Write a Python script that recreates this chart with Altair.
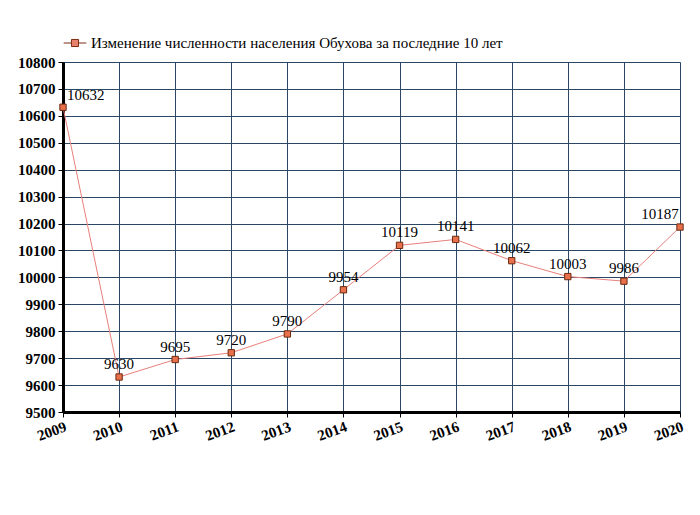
import altair as alt
import pandas as pd

years = [2009, 2010, 2011, 2012, 2013, 2014, 2015, 2016, 2017, 2018, 2019, 2020]
population = [10632, 9630, 9695, 9720, 9790, 9954, 10119, 10141, 10062, 10003, 9986, 10187]
label_pos = ["right", "above", "above", "above", "above", "above", "above", "above",
             "above", "above", "above", "left"]
series_name = "Изменение численности населения Обухова за последние 10 лет"

df = pd.DataFrame({"year": years, "pop": population, "pos": label_pos, "series": series_name})

FONT = "Liberation Serif"

x = alt.X("year:Q", scale=alt.Scale(domain=[2009, 2020], nice=False, zero=False),
          axis=alt.Axis(values=years, format="d", labelAngle=-20, labelAlign="right",
                        labelBaseline="top", labelFont=FONT, labelFontSize=15,
                        labelFontWeight="bold", labelColor="black", title=None,
                        grid=True, gridColor="#2b4766", gridWidth=1,
                        domainColor="black", domainWidth=3, tickColor="black",
                        tickSize=5, labelPadding=2, labelOverlap=False))
y = alt.Y("pop:Q", scale=alt.Scale(domain=[9500, 10800], nice=False, zero=False),
          axis=alt.Axis(values=list(range(9500, 10801, 100)), format="d", labelFont=FONT,
                        labelFontSize=15, labelFontWeight="bold", labelColor="black",
                        title=None, grid=True, gridColor="#2b4766", gridWidth=1,
                        domainColor="black", domainWidth=3, tickColor="black",
                        tickSize=5, labelPadding=3))

color = alt.Color("series:N", scale=alt.Scale(range=["#e8806e"]),
                  legend=alt.Legend(title=None, orient="none", legendX=4, legendY=-27,
                                    labelFont=FONT, labelFontSize=15, labelColor="black",
                                    symbolType="M-1.6,0H-0.5M0.5,0H1.6M-0.5,-0.5H0.5V0.5H-0.5Z",
                                    symbolSize=200, symbolStrokeColor="#7a2a10",
                                    symbolFillColor="#e8704a", symbolStrokeWidth=1,
                                    labelLimit=600, labelOffset=8))

base = alt.Chart(df)
line = base.mark_line(color="#e8807a", strokeWidth=1).encode(x=x, y=y)
points = base.mark_point(shape="square", filled=True, size=40, fill="#e8704a",
                         stroke="#6a2a10", strokeWidth=1, opacity=1).encode(x=x, y=y, color=color)
txt = alt.Text("pop:Q", format="d")
labels_above = base.transform_filter(alt.datum.pos == "above").mark_text(
    font=FONT, fontSize=15, color="black", dy=-13).encode(x=x, y=y, text=txt)
labels_right = base.transform_filter(alt.datum.pos == "right").mark_text(
    font=FONT, fontSize=15, color="black", dy=-12, dx=4, align="left").encode(x=x, y=y, text=txt)
labels_left = base.transform_filter(alt.datum.pos == "left").mark_text(
    font=FONT, fontSize=15, color="black", dy=-13, dx=-20).encode(x=x, y=y, text=txt)

chart = alt.layer(line, points, labels_above, labels_right, labels_left).properties(
    width=617, height=350,
    autosize=alt.AutoSizeParams(type="none"),
    padding={"left": 63, "top": 62, "right": 20, "bottom": 103},
).configure_view(stroke=None).configure(background="white")

chart.save("out.html", embed_options={"renderer": "svg", "actions": False})
